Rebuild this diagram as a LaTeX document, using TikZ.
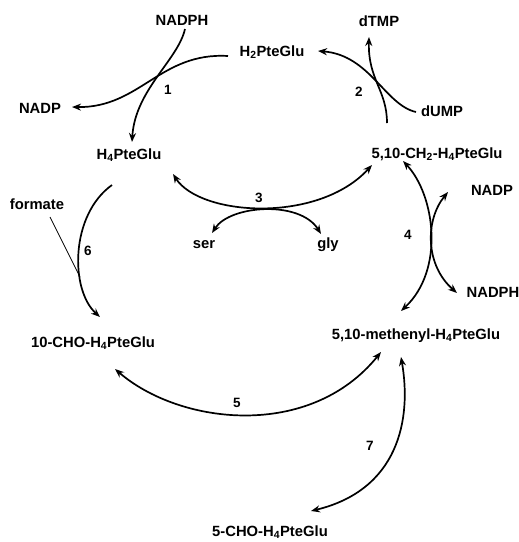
\documentclass[tikz,border=0pt]{standalone}
\usepackage{fontspec}
\setmainfont{Liberation Sans}
\usetikzlibrary{arrows.meta}
\begin{document}
\begin{tikzpicture}[x=1pt,y=-1pt,
  lbl/.style={anchor=base,inner sep=0pt,font=\fontsize{14.8}{16}\selectfont\bfseries},
  num/.style={anchor=base,inner sep=0pt,font=\fontsize{13.5}{15}\selectfont\bfseries},
  rx/.style={line width=1.7pt},
  tip/.style={-{Stealth[length=9pt,width=7pt]}},
  tips/.style={{Stealth[length=9pt,width=7pt]}-{Stealth[length=9pt,width=7pt]}},
  thin/.style={line width=0.7pt}]
\useasboundingbox (0,0) rectangle (519,542);
% compounds
\node[lbl] (nadphT) at (182,25) {NADPH};
\node[lbl] (nadpL) at (40,113) {NADP};
\node[lbl] (h2) at (272,56) {H\textsubscript{2}PteGlu};
\node[lbl] (h4) at (129,159) {H\textsubscript{4}PteGlu};
\node[lbl] (dtmp) at (379,26) {dTMP};
\node[lbl] (dump) at (442,116) {dUMP};
\node[lbl] (ch2) at (437,158) {5,10-CH\textsubscript{2}-H\textsubscript{4}PteGlu};
\node[lbl] (formate) at (37,209) {formate};
\node[lbl] (cho10) at (93,347) {10-CHO-H\textsubscript{4}PteGlu};
\node[lbl] (ser) at (204,248) {ser};
\node[lbl] (gly) at (328,248) {gly};
\node[lbl] (nadpR) at (492,195) {NADP};
\node[lbl] (nadphR) at (493,297) {NADPH};
\node[lbl] (meth) at (416,339) {5,10-methenyl-H\textsubscript{4}PteGlu};
\node[lbl] (cho5) at (270,536) {5-CHO-H\textsubscript{4}PteGlu};
% reaction numbers
\node[num] (n1) at (168,94) {1};
\node[num] (n2) at (359,96) {2};
\node[num] (n3) at (259,202) {3};
\node[num] (n4) at (408,239) {4};
\node[num] (n5) at (237,407) {5};
\node[num] (n6) at (88,255) {6};
\node[num] (n7) at (370,450) {7};
% connector end points
\coordinate (a1s) at (228,56);  \coordinate (a1e) at (72,107);
\coordinate (b1s) at (185,29);  \coordinate (b1e) at (132,142);
\coordinate (a2s) at (416,112); \coordinate (a2e) at (318,51);
\coordinate (b2s) at (387,123); \coordinate (b2e) at (369,37);
\coordinate (a3s) at (173,174); \coordinate (a3e) at (372,165);
\coordinate (b3s) at (212,233); \coordinate (b3e) at (321,234);
\coordinate (a4s) at (403,161); \coordinate (a4e) at (401,311);
\coordinate (b4s) at (448,192); \coordinate (b4e) at (457,293);
\coordinate (a6s) at (112,185); \coordinate (a6e) at (100,317);
\coordinate (fs) at (50,217);   \coordinate (fe) at (80,277);
\coordinate (a5s) at (115,369); \coordinate (a5e) at (381,352);
\coordinate (a7s) at (401,357); \coordinate (a7e) at (311,511);
% reaction 1
\draw[rx,tip] (a1s) .. controls (160,52) and (140,108) .. (a1e);
\draw[rx,tip] (b1s) .. controls (178,60) and (135,90) .. (b1e);
% reaction 2
\draw[rx,tip] (a2s) .. controls (385,105) and (370,55) .. (a2e);
\draw[rx,tip] (b2s) .. controls (387,90) and (368,80) .. (b2e);
% reaction 3
\draw[rx,tips] (a3s) .. controls (200,216) and (318,224) .. (a3e);
\draw[rx,tips] (b3s) .. controls (230,205) and (300,200) .. (b3e);
% reaction 4
\draw[rx,tips] (a4s) .. controls (435,195) and (445,270) .. (a4e);
\draw[rx,tips] (b4s) .. controls (425,220) and (425,265) .. (b4e);
% reaction 6
\draw[rx,tip] (a6s) .. controls (70,215) and (70,290) .. (a6e);
\draw[thin] (fs) -- (fe);
% reaction 5
\draw[rx,tips] (a5s) .. controls (180,425) and (310,440) .. (a5e);
% reaction 7
\draw[rx,tips] (a7s) .. controls (412,420) and (398,490) .. (a7e);
\end{tikzpicture}
\end{document}
